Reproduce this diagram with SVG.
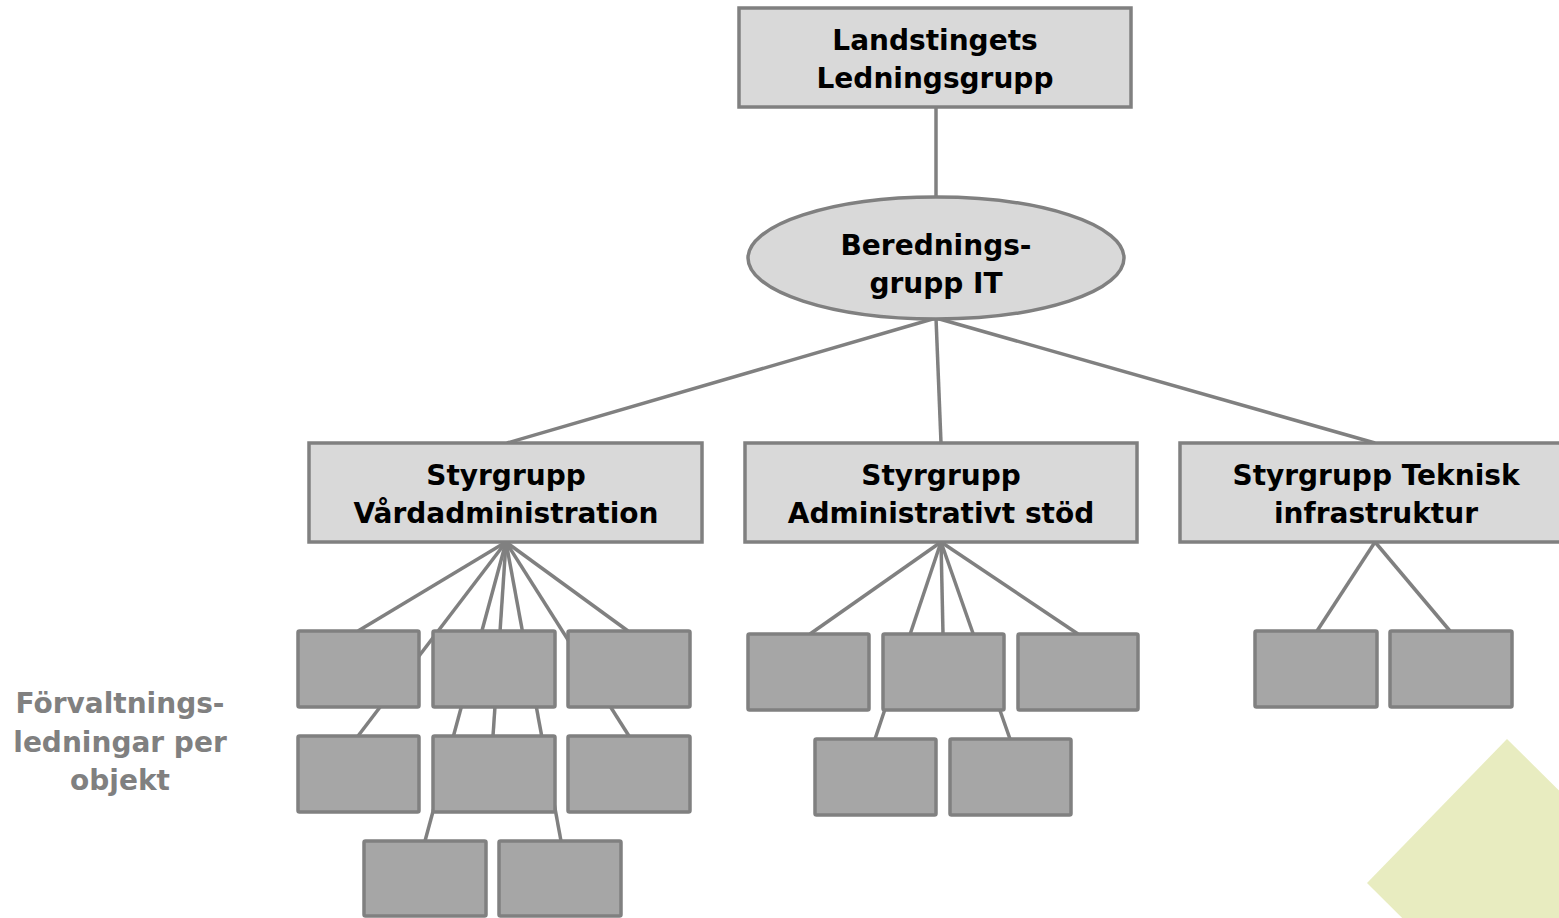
<svg xmlns="http://www.w3.org/2000/svg" width="1559" height="918" viewBox="0 0 1559 918">
<style>
.lt{fill:#d9d9d9;stroke:#808080;stroke-width:3.5}
.dk{fill:#a6a6a6;stroke:#808080;stroke-width:3.5}
.ln{stroke:#808080;stroke-width:3.5;fill:none}
text{font-family:"DejaVu Sans","Liberation Sans",sans-serif;font-weight:bold;font-size:28px;text-anchor:middle;fill:#000}
.lbl{fill:#808080}
</style>
<rect width="1559" height="918" fill="#ffffff"/>
<polygon id="deco" points="1367,883 1507,739 1700,930 1560,1075" fill="#e8ecc0"/>
<g id="connectors" class="ln">
<line x1="936" y1="107" x2="936" y2="198"/>
<line x1="936" y1="318" x2="507" y2="443"/>
<line x1="936" y1="318" x2="941" y2="443"/>
<line x1="936" y1="318" x2="1375" y2="443"/>
<line x1="506" y1="542" x2="358" y2="631"/>
<line x1="506" y1="542" x2="358" y2="736"/>
<line x1="506" y1="542" x2="425" y2="841"/>
<line x1="506" y1="542" x2="493" y2="736"/>
<line x1="506" y1="542" x2="561" y2="841"/>
<line x1="506" y1="542" x2="629" y2="736"/>
<line x1="506" y1="542" x2="628" y2="631"/>
<line x1="941" y1="542" x2="810" y2="634"/>
<line x1="941" y1="542" x2="875" y2="739"/>
<line x1="941" y1="542" x2="943" y2="634"/>
<line x1="941" y1="542" x2="1010" y2="739"/>
<line x1="941" y1="542" x2="1078" y2="634"/>
<line x1="1375" y1="542" x2="1317" y2="631"/>
<line x1="1375" y1="542" x2="1450" y2="631"/>
</g>
<g id="landstingets">
<rect class="lt" x="739" y="8" width="392" height="99"/>
<text x="935" y="50">Landstingets</text>
<text x="935" y="88">Ledningsgrupp</text>
</g>
<g id="beredning">
<ellipse class="lt" cx="936" cy="258" rx="188" ry="61"/>
<text x="936" y="255">Berednings-</text>
<text x="936" y="293">grupp IT</text>
</g>
<g id="styr-vard">
<rect class="lt" x="309" y="443" width="393" height="99"/>
<text x="506" y="485">Styrgrupp</text>
<text x="506" y="523">Vårdadministration</text>
</g>
<g id="styr-admin">
<rect class="lt" x="745" y="443" width="392" height="99"/>
<text x="941" y="485">Styrgrupp</text>
<text x="941" y="523">Administrativt stöd</text>
</g>
<g id="styr-teknisk">
<rect class="lt" x="1180" y="443" width="392" height="99"/>
<text x="1376" y="485">Styrgrupp Teknisk</text>
<text x="1376" y="523">infrastruktur</text>
</g>
<g id="vard-1"><rect class="dk" x="298" y="631" width="121" height="76" rx="1.5"/></g>
<g id="vard-2"><rect class="dk" x="433" y="631" width="122" height="76" rx="1.5"/></g>
<g id="vard-3"><rect class="dk" x="568" y="631" width="122" height="76" rx="1.5"/></g>
<g id="vard-4"><rect class="dk" x="298" y="736" width="121" height="76" rx="1.5"/></g>
<g id="vard-5"><rect class="dk" x="433" y="736" width="122" height="76" rx="1.5"/></g>
<g id="vard-6"><rect class="dk" x="568" y="736" width="122" height="76" rx="1.5"/></g>
<g id="vard-7"><rect class="dk" x="364" y="841" width="122" height="75" rx="1.5"/></g>
<g id="vard-8"><rect class="dk" x="499" y="841" width="122" height="75" rx="1.5"/></g>
<g id="admin-1"><rect class="dk" x="748" y="634" width="121" height="76" rx="1.5"/></g>
<g id="admin-2"><rect class="dk" x="883" y="634" width="121" height="76" rx="1.5"/></g>
<g id="admin-3"><rect class="dk" x="1018" y="634" width="120" height="76" rx="1.5"/></g>
<g id="admin-4"><rect class="dk" x="815" y="739" width="121" height="76" rx="1.5"/></g>
<g id="admin-5"><rect class="dk" x="950" y="739" width="121" height="76" rx="1.5"/></g>
<g id="tek-1"><rect class="dk" x="1255" y="631" width="122" height="76" rx="1.5"/></g>
<g id="tek-2"><rect class="dk" x="1390" y="631" width="122" height="76" rx="1.5"/></g>
<g id="label">
<text class="lbl" x="120" y="713">Förvaltnings-</text>
<text class="lbl" x="120" y="752">ledningar per</text>
<text class="lbl" x="120" y="790">objekt</text>
</g>
</svg>
